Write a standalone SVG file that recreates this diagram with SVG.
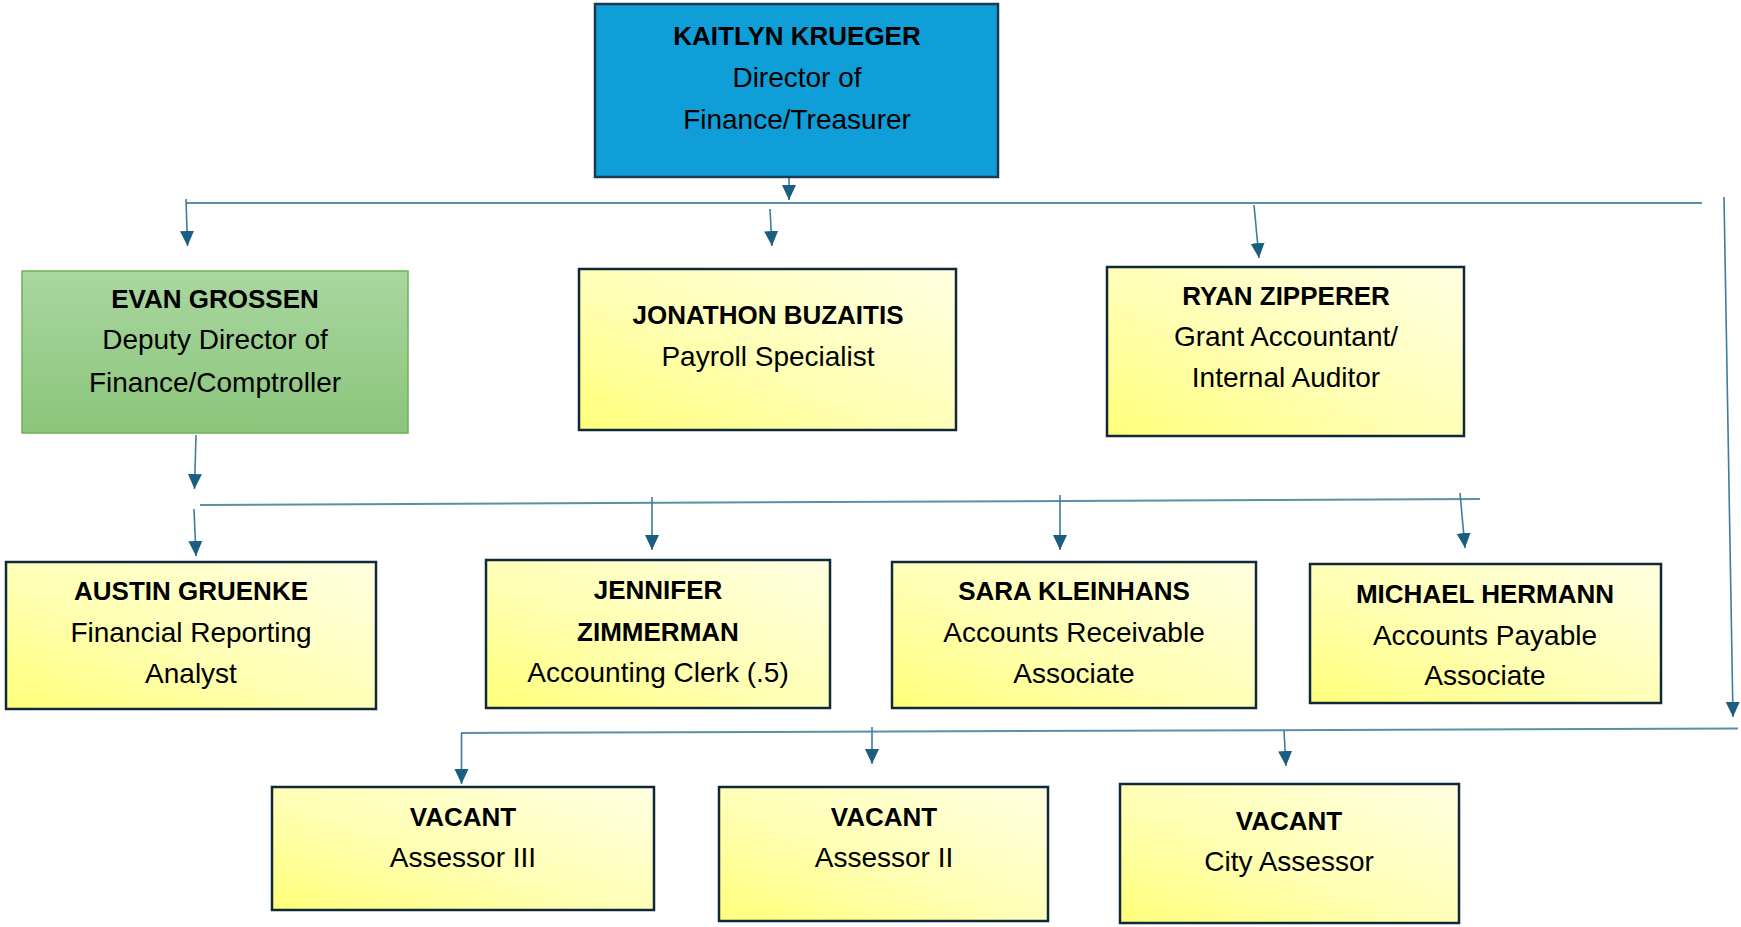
<svg xmlns="http://www.w3.org/2000/svg" width="1741" height="927" viewBox="0 0 1741 927">
<defs>
<linearGradient id="gy" x1="0" y1="1" x2="1" y2="0">
<stop offset="0" stop-color="#FFFF7A"/>
<stop offset="0.45" stop-color="#FFFFB4"/>
<stop offset="1" stop-color="#FFFFE2"/>
</linearGradient>
<linearGradient id="gg" x1="0" y1="0" x2="0" y2="1">
<stop offset="0" stop-color="#AAD6A0"/>
<stop offset="1" stop-color="#8AC57A"/>
</linearGradient>
<marker id="ah" markerUnits="userSpaceOnUse" markerWidth="16" markerHeight="16" viewBox="0 0 16 16" refX="15" refY="8" orient="auto">
<path d="M0,1 L15,8 L0,15 Z" fill="#1A5E80"/>
</marker>
<style>
.box{fill:url(#gy);stroke:#10293A;stroke-width:2.5}
.top{fill:#0F9ED7;stroke:#1B3A50;stroke-width:2.5}
.green{fill:url(#gg);stroke:#6DB352;stroke-width:1.5}
.b{font-family:"Liberation Sans",Arial,sans-serif;font-weight:bold;font-size:26px;fill:#000;text-anchor:middle}
.r{font-family:"Liberation Sans",Arial,sans-serif;font-size:28px;fill:#000;text-anchor:middle}
.bus{stroke:#5A8FA8;stroke-width:2;fill:none}
.arr{stroke:#3F7C9E;stroke-width:1.6;fill:none;marker-end:url(#ah)}
</style>
</defs>
<g id="connectors">
<line class="bus" x1="186" y1="203" x2="1702" y2="203"/>
<line class="bus" x1="200" y1="505" x2="1480" y2="499"/>
<line class="bus" x1="461" y1="733" x2="1738" y2="728.5"/>
<line class="arr" x1="789" y1="173" x2="789" y2="200"/>
<line class="arr" x1="186" y1="199" x2="187.5" y2="246"/>
<line class="arr" x1="770" y1="209" x2="772" y2="246"/>
<line class="arr" x1="1254" y1="205" x2="1259" y2="258"/>
<line class="arr" x1="1724" y1="197" x2="1733" y2="717"/>
<line class="arr" x1="196" y1="435" x2="194.5" y2="489"/>
<line class="arr" x1="194" y1="509" x2="196" y2="556"/>
<line class="arr" x1="652" y1="497" x2="652" y2="550"/>
<line class="arr" x1="1060" y1="495" x2="1060" y2="550"/>
<line class="arr" x1="1460" y1="493" x2="1465" y2="548"/>
<line class="arr" x1="461.5" y1="733" x2="461.5" y2="784"/>
<line class="arr" x1="872" y1="727" x2="872" y2="764"/>
<line class="arr" x1="1284" y1="731" x2="1286" y2="766"/>
</g>
<g id="kaitlyn">
<rect class="top" x="595" y="4" width="403" height="173"/>
<text class="b" x="797" y="45">KAITLYN KRUEGER</text>
<text class="r" x="797" y="87">Director of</text>
<text class="r" x="797" y="129">Finance/Treasurer</text>
</g>
<g id="evan">
<rect class="green" x="22" y="271" width="386" height="162"/>
<text class="b" x="215" y="308">EVAN GROSSEN</text>
<text class="r" x="215" y="349">Deputy Director of</text>
<text class="r" x="215" y="392">Finance/Comptroller</text>
</g>
<g id="jonathon">
<rect class="box" x="579" y="269" width="377" height="161"/>
<text class="b" x="768" y="324">JONATHON BUZAITIS</text>
<text class="r" x="768" y="366">Payroll Specialist</text>
</g>
<g id="ryan">
<rect class="box" x="1107" y="267" width="357" height="169"/>
<text class="b" x="1286" y="305">RYAN ZIPPERER</text>
<text class="r" x="1286" y="346">Grant Accountant/</text>
<text class="r" x="1286" y="387">Internal Auditor</text>
</g>
<g id="austin">
<rect class="box" x="6" y="562" width="370" height="147"/>
<text class="b" x="191" y="600">AUSTIN GRUENKE</text>
<text class="r" x="191" y="642">Financial Reporting</text>
<text class="r" x="191" y="683">Analyst</text>
</g>
<g id="jennifer">
<rect class="box" x="486" y="560" width="344" height="148"/>
<text class="b" x="658" y="599">JENNIFER</text>
<text class="b" x="658" y="641">ZIMMERMAN</text>
<text class="r" x="658" y="682">Accounting Clerk (.5)</text>
</g>
<g id="sara">
<rect class="box" x="892" y="562" width="364" height="146"/>
<text class="b" x="1074" y="600">SARA KLEINHANS</text>
<text class="r" x="1074" y="642">Accounts Receivable</text>
<text class="r" x="1074" y="683">Associate</text>
</g>
<g id="michael">
<rect class="box" x="1310" y="564" width="351" height="139"/>
<text class="b" x="1485" y="603">MICHAEL HERMANN</text>
<text class="r" x="1485" y="645">Accounts Payable</text>
<text class="r" x="1485" y="685">Associate</text>
</g>
<g id="assessor3">
<rect class="box" x="272" y="787" width="382" height="123"/>
<text class="b" x="463" y="826">VACANT</text>
<text class="r" x="463" y="867">Assessor III</text>
</g>
<g id="assessor2">
<rect class="box" x="719" y="787" width="329" height="134"/>
<text class="b" x="884" y="826">VACANT</text>
<text class="r" x="884" y="867">Assessor II</text>
</g>
<g id="cityassessor">
<rect class="box" x="1120" y="784" width="339" height="139"/>
<text class="b" x="1289" y="830">VACANT</text>
<text class="r" x="1289" y="871">City Assessor</text>
</g>
</svg>
